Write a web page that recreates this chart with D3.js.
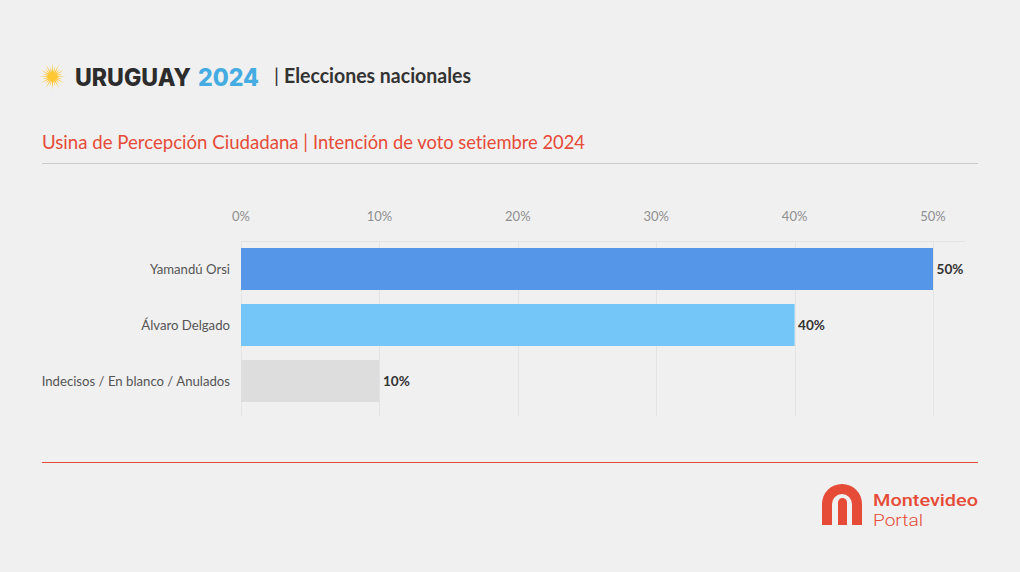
<!DOCTYPE html>
<html><head><meta charset="utf-8">
<script src="https://cdn.jsdelivr.net/npm/d3@7"></script>
<style>html,body{margin:0;padding:0;background:#f0f0f0}svg{display:block}text{font-family:Lato,sans-serif;font-variant-ligatures:none}</style>
</head><body><svg id="c" width="1020" height="572"></svg>
<script>
const categories=["Yamandú Orsi","Álvaro Delgado","Indecisos / En blanco / Anulados"];
const values=[50,40,10];
const barColors=["#5596e9","#73c6f7","#dddddd"];
const ticks=[0,10,20,30,40,50];
const svg=d3.select("#c");
const x=d3.scaleLinear().domain([0,50]).range([241,933]);
const y=d3.scaleBand().domain(categories).range([241,409]).paddingInner(.25).paddingOuter(.125);
function txt(s,px,py,o={}){return svg.append("text").attr("x",px).attr("y",py).text(s)
 .attr("font-size",o.size||14).attr("fill",o.fill||"#333").attr("font-weight",o.weight||400)
 .attr("text-anchor",o.anchor||"start").attr("textLength",o.len||null).attr("lengthAdjust",o.len?"spacingAndGlyphs":null)
 .style("font-family",o.family||null);}
// header
const rays=d3.range(48).map(i=>[i*Math.PI/24,i%2?4.5:(i%4?10.5:13.5)]);
svg.append("path").attr("transform","translate(52.5,76.5)").attr("fill","#ffc733")
 .attr("d",d3.lineRadial().angle(d=>d[0]).radius(d=>d[1]).curve(d3.curveLinearClosed)(rays));
txt("URUGUAY",75,86,{size:24,weight:800,fill:"#2c2c2c",len:116,family:"Inter"});
txt("2024",198,86,{size:24,weight:800,fill:"#45ace2",len:61,family:"Inter"});
txt("|",274,83,{size:20,fill:"#333"});
txt("Elecciones nacionales",284,83,{size:20,weight:700,fill:"#333",len:187});
txt("Usina de Percepción Ciudadana |",42,149,{size:20,fill:"#e64b38",len:266});
txt("Intención de voto setiembre 2024",313,149,{size:20,fill:"#e64b38",len:272});
svg.append("line").attr("x1",42).attr("x2",978).attr("y1",163.5).attr("y2",163.5).attr("stroke","#cccccc");
// grid
svg.append("line").attr("x1",241).attr("x2",965).attr("y1",241.5).attr("y2",241.5).attr("stroke","#e4e4e4");
svg.selectAll(".g").data(ticks).enter().append("line").attr("class","g")
 .attr("x1",d=>Math.round(x(d))+.5).attr("x2",d=>Math.round(x(d))+.5).attr("y1",241).attr("y2",416).attr("stroke","#e4e4e4");
svg.selectAll(".t").data(ticks).enter().append("text").attr("class","t")
 .attr("x",d=>x(d)).attr("y",221).attr("text-anchor","middle").attr("font-size",13).attr("fill","#8f8f8f").text(d=>d+"%");
// bars
svg.selectAll(".b").data(categories).enter().append("rect").attr("class","b")
 .attr("x",x(0)).attr("y",d=>y(d)).attr("height",y.bandwidth())
 .attr("width",(d,i)=>x(values[i])-x(0)).attr("fill",(d,i)=>barColors[i]);
svg.selectAll(".l").data(categories).enter().append("text").attr("class","l")
 .attr("x",230).attr("y",d=>y(d)+y.bandwidth()/2+5).attr("text-anchor","end").attr("font-size",14).attr("fill","#555").text(d=>d)
 .each(function(){const w=this.getComputedTextLength();d3.select(this).attr("textLength",w*.94).attr("lengthAdjust","spacingAndGlyphs");});
svg.selectAll(".v").data(categories).enter().append("text").attr("class","v")
 .attr("x",(d,i)=>x(values[i])+3.5).attr("y",d=>y(d)+y.bandwidth()/2+5).attr("font-size",14).attr("font-weight",700).attr("fill","#333").text((d,i)=>values[i]+"%")
 .each(function(){const w=this.getComputedTextLength();d3.select(this).attr("textLength",w*.97).attr("lengthAdjust","spacingAndGlyphs");});
// footer
svg.append("line").attr("x1",42).attr("x2",978).attr("y1",462.5).attr("y2",462.5).attr("stroke","#e64b38");
svg.append("path").attr("fill","#e64b38")
 .attr("d","M822 525V504A20 20 0 0 1 862 504V525H852V504A10 10 0 0 0 832 504V525Z M838 525V502.5A4.5 4.5 0 0 1 847 502.5V525Z");
txt("Montevideo",873,506,{size:16,weight:500,fill:"#e64b38",len:105,family:"Roboto"});
txt("Portal",873,525.5,{size:16.5,weight:300,fill:"#e64b38",len:50,family:"Roboto"});
</script></body></html>
